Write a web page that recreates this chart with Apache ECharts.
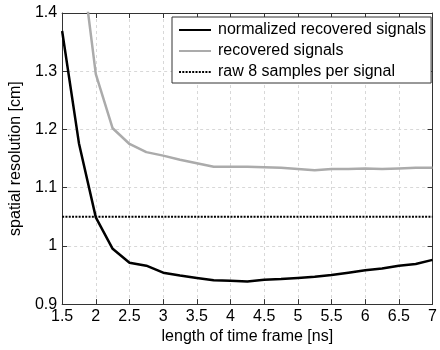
<!DOCTYPE html>
<html>
<head>
<meta charset="utf-8">
<script src="https://cdn.jsdelivr.net/npm/echarts@6/dist/echarts.min.js"></script>
<style>html,body{margin:0;padding:0;background:#fff;}#c{width:440px;height:350px;}</style>
</head>
<body>
<div id="c"></div>
<script>
var frameLengths = [1.5, 1.75, 2, 2.25, 2.5, 2.75, 3, 3.25, 3.5, 3.75, 4, 4.25, 4.5, 4.75, 5, 5.25, 5.5, 5.75, 6, 6.25, 6.5, 6.75, 7];
var normalizedRecovered = [1.369, 1.176, 1.049, 0.995, 0.971, 0.966, 0.954, 0.949, 0.945, 0.941, 0.940, 0.939, 0.942, 0.943, 0.945, 0.947, 0.950, 0.954, 0.958, 0.961, 0.966, 0.969, 0.976];
var recovered = [1.9, 1.525, 1.295, 1.202, 1.175, 1.161, 1.155, 1.148, 1.142, 1.136, 1.136, 1.136, 1.135, 1.134, 1.132, 1.130, 1.132, 1.132, 1.133, 1.132, 1.133, 1.134, 1.134];
var rawX = [1.5, 7];
var rawValues = [1.05, 1.05];
var seriesNames = ['normalized recovered signals', 'recovered signals', 'raw 8 samples per signal'];
var xTitle = 'length of time frame [ns]';
var yTitle = 'spatial resolution [cm]';

function pairs(xs, ys) { return xs.map(function (x, i) { return [x, ys[i]]; }); }

var font = 'Liberation Sans, Arial, sans-serif';
var axisColor = '#333';
var gridLine = { show: true, lineStyle: { color: '#d8d8d8', type: [3, 3], width: 1 } };

var chart = echarts.init(document.getElementById('c'), null, { renderer: 'canvas' });
chart.setOption({
  backgroundColor: '#fff',
  animation: false,
  textStyle: { fontFamily: font },
  grid: { left: 58, right: 1, top: 13, bottom: 42, containLabel: false },
  legend: {
    show: true,
    orient: 'vertical',
    left: 172, top: 17,
    padding: [5, 5, 3, 6],
    itemWidth: 32, itemHeight: 16, itemGap: 5,
    backgroundColor: '#fff',
    borderColor: '#333', borderWidth: 1, borderRadius: 0,
    itemStyle: { opacity: 0, borderWidth: 0 },
    textStyle: { fontSize: 16, color: '#000', fontFamily: font, padding: [0, 0, 0, 2] },
    data: seriesNames
  },
  xAxis: [{
    type: 'value', min: 1.5, max: 7, interval: 0.5,
    position: 'bottom',
    name: xTitle, nameLocation: 'middle', nameGap: 21,
    nameTextStyle: { fontSize: 16, color: '#000', fontFamily: font },
    axisLine: { show: true, lineStyle: { color: axisColor, width: 1 } },
    axisTick: { show: true, inside: true, length: 5, lineStyle: { color: axisColor } },
    axisLabel: { fontSize: 16, color: '#000', margin: 4, fontFamily: font },
    splitLine: gridLine
  }, {
    type: 'value', min: 1.5, max: 7, interval: 0.5,
    position: 'top',
    axisLine: { show: true, lineStyle: { color: axisColor, width: 1 } },
    axisTick: { show: true, inside: true, length: 5, lineStyle: { color: axisColor } },
    axisLabel: { show: false },
    splitLine: { show: false }
  }],
  yAxis: [{
    type: 'value', min: 0.9, max: 1.4, interval: 0.1,
    position: 'left',
    name: yTitle, nameLocation: 'middle', nameGap: 38, nameRotate: 90,
    nameTextStyle: { fontSize: 16, color: '#000', fontFamily: font },
    axisLine: { show: true, lineStyle: { color: axisColor, width: 1 } },
    axisTick: { show: true, inside: true, length: 5, lineStyle: { color: axisColor } },
    axisLabel: { fontSize: 16, color: '#000', margin: 5, fontFamily: font,
      formatter: function (v) { return String(Math.round(v * 10) / 10); } },
    splitLine: gridLine
  }, {
    type: 'value', min: 0.9, max: 1.4, interval: 0.1,
    position: 'right',
    axisLine: { show: true, lineStyle: { color: axisColor, width: 1 } },
    axisTick: { show: true, inside: true, length: 5, lineStyle: { color: axisColor } },
    axisLabel: { show: false },
    splitLine: { show: false }
  }],
  series: [{
    name: seriesNames[0], type: 'line', xAxisIndex: 0, yAxisIndex: 0,
    data: pairs(frameLengths, normalizedRecovered),
    symbol: 'none', clip: true, z: 4,
    lineStyle: { color: '#000', width: 2.5 }, itemStyle: { color: '#000' }
  }, {
    name: seriesNames[1], type: 'line', xAxisIndex: 0, yAxisIndex: 0,
    data: pairs(frameLengths, recovered),
    symbol: 'none', clip: true, z: 3,
    lineStyle: { color: '#ababab', width: 2.5 }, itemStyle: { color: '#ababab' }
  }, {
    name: seriesNames[2], type: 'line', xAxisIndex: 0, yAxisIndex: 0,
    data: pairs(rawX, rawValues),
    symbol: 'none', clip: true, z: 3,
    lineStyle: { color: '#000', width: 2, type: [2, 1.3] }, itemStyle: { color: '#000' }
  }]
});
</script>
</body>
</html>
